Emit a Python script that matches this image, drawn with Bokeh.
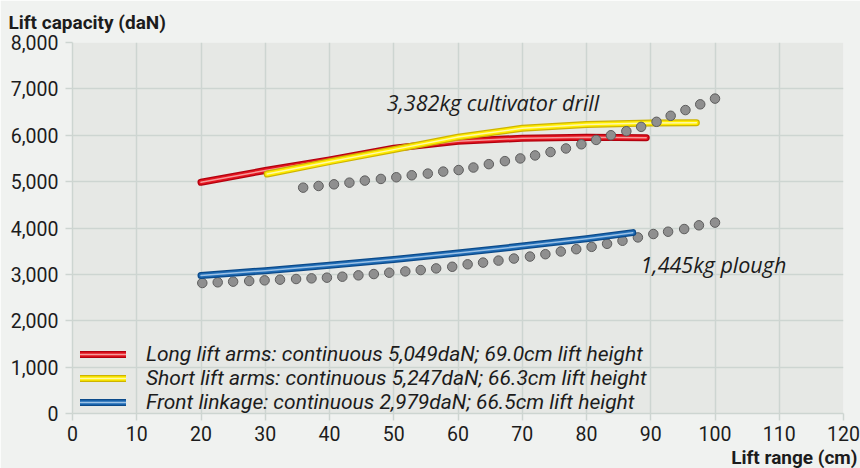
from bokeh.plotting import figure
from bokeh.models import Range1d, FixedTicker, NumeralTickFormatter, Label, Legend, LegendItem, Title
from bokeh.embed import file_html
from bokeh.resources import INLINE

# ---- data ----
long_x = [20, 30, 40, 50, 60, 70, 80, 89.3]
long_y = [4986, 5240, 5470, 5720, 5870, 5935, 5955, 5945]
short_x = [30.3, 40, 50, 60, 70, 80, 90, 97.1]
short_y = [5165, 5430, 5690, 5960, 6150, 6230, 6262, 6268]
front_x = [20, 30, 40, 50, 60, 70, 80, 87.2]
front_y = [2975, 3080, 3195, 3320, 3460, 3610, 3770, 3900]

drill_x = [35.9, 38.3, 40.7, 43.1, 45.5, 48.0, 50.4, 52.8, 55.3, 57.7, 60.1, 62.4, 64.8, 67.3,
           69.7, 72.0, 74.4, 76.8, 79.2, 81.5, 83.8, 86.2, 88.5, 90.9, 93.1, 95.4, 97.7, 100.0]
drill_y = [4870, 4906, 4942, 4978, 5022, 5058, 5094, 5137, 5173, 5216, 5250, 5304, 5377, 5442,
           5500, 5565, 5638, 5715, 5805, 5899, 6000, 6087, 6181, 6290, 6420, 6543, 6667, 6790]

plough_x = [20.2, 22.6, 25.0, 27.5, 29.9, 32.3, 34.8, 37.2, 39.6, 42.0, 44.5, 46.9, 49.3, 51.8,
            54.2, 56.6, 59.1, 61.5, 63.9, 66.3, 68.7, 71.2, 73.6, 76.0, 78.4, 80.8, 83.2, 85.6,
            88.0, 90.4, 92.7, 95.2, 97.5, 100.0]
plough_y = [2814, 2829, 2843, 2857, 2871, 2886, 2900, 2914, 2929, 2950, 2979, 3007, 3036, 3064,
            3093, 3129, 3164, 3217, 3254, 3297, 3341, 3384, 3435, 3493, 3543, 3594, 3659, 3725,
            3797, 3870, 3920, 3978, 4058, 4116]

x_ticks = [0, 10, 20, 30, 40, 50, 60, 70, 80, 90, 100, 110, 120]
y_ticks = [0, 1000, 2000, 3000, 4000, 5000, 6000, 7000, 8000]

labels = [
    "Long lift arms: continuous 5,049daN; 69.0cm lift height",
    "Short lift arms: continuous 5,247daN; 66.3cm lift height",
    "Front linkage: continuous 2,979daN; 66.5cm lift height",
]

FONT = "Roboto"
IFONT = "Open Sans"
TXT = "#1c1c1c"
GRID = "#CDD5D1"

p = figure(width=860, height=468, output_backend="svg", toolbar_location=None,
           x_range=Range1d(0, 120), y_range=Range1d(0, 8000),
           min_border_left=72, min_border_right=17, min_border_top=42, min_border_bottom=55)
p.background_fill_color = "#E6E8E5"
p.border_fill_color = "#F0F2F0"
p.outline_line_color = None

for ax, ticks in ((p.xaxis, x_ticks), (p.yaxis, y_ticks)):
    ax.ticker = FixedTicker(ticks=ticks)
    ax.minor_tick_line_color = None
    ax.major_tick_in = 0
    ax.major_tick_out = 7
    ax.major_tick_line_color = GRID
    ax.major_tick_line_width = 1.5
    ax.axis_line_color = GRID
    ax.axis_line_width = 1.5
    ax.major_label_text_font = FONT
    ax.major_label_text_font_size = "19.5px"
    ax.major_label_text_color = TXT
p.xaxis.major_label_standoff = 5
p.yaxis.major_label_standoff = 7
p.yaxis.formatter = NumeralTickFormatter(format="0,0")

p.xgrid.ticker = FixedTicker(ticks=x_ticks)
p.ygrid.ticker = FixedTicker(ticks=y_ticks)
p.grid.grid_line_color = GRID
p.grid.grid_line_width = 1.5

# axis titles as plot titles
p.add_layout(Title(text="Lift capacity (daN)", align="left", offset=-64, standoff=17,
                   text_font=FONT, text_font_style="bold", text_font_size="19px",
                   text_color=TXT), "above")
p.add_layout(Title(text="Lift range (cm)", align="right", offset=-14, standoff=0,
                   text_font=FONT, text_font_style="bold", text_font_size="19px",
                   text_color=TXT), "below")


def tube(xs, ys, dark, main, light):
    r1 = p.line(xs, ys, line_color=dark, line_width=7, line_cap="round", line_join="round")
    r2 = p.line(xs, ys, line_color=main, line_width=4.5, line_cap="round", line_join="round")
    r3 = p.line(xs, ys, line_color=light, line_width=1.5, line_cap="round", line_join="round")
    return [r1, r2, r3]


red = tube(long_x, long_y, "#B3000E", "#E3141F", "#F69A9A")
yellow = tube(short_x, short_y, "#CDB300", "#FFEC00", "#FFF9A8")
p.scatter(drill_x, drill_y, size=9.5, fill_color="#8f8f8f", line_color="#5e5e5e", line_width=1)
p.scatter(plough_x, plough_y, size=9.5, fill_color="#8f8f8f", line_color="#5e5e5e", line_width=1)
blue = tube(front_x, front_y, "#0B4A8A", "#1F6BB4", "#9CC2E6")

legend = Legend(items=[LegendItem(label=labels[0], renderers=red),
                       LegendItem(label=labels[1], renderers=yellow),
                       LegendItem(label=labels[2], renderers=blue)],
                location=(8, -1), glyph_width=46, glyph_height=12, label_standoff=20,
                spacing=0, padding=0, margin=0,
                label_text_font=FONT, label_text_font_style="italic",
                label_text_font_size="21px", label_text_color=TXT,
                background_fill_alpha=0, border_line_alpha=0)
p.add_layout(legend, "center")

p.add_layout(Label(x=48.9, y=6707, text="3,382kg cultivator drill", text_font=IFONT,
                   text_font_style="italic", text_font_size="21.5px", text_color=TXT,
                   text_align="left", text_baseline="alphabetic"))
p.add_layout(Label(x=88.4, y=3214, text="1,445kg plough", text_font=IFONT,
                   text_font_style="italic", text_font_size="21.5px", text_color=TXT,
                   text_align="left", text_baseline="alphabetic"))

open("out.html", "w").write(file_html(p, INLINE))
